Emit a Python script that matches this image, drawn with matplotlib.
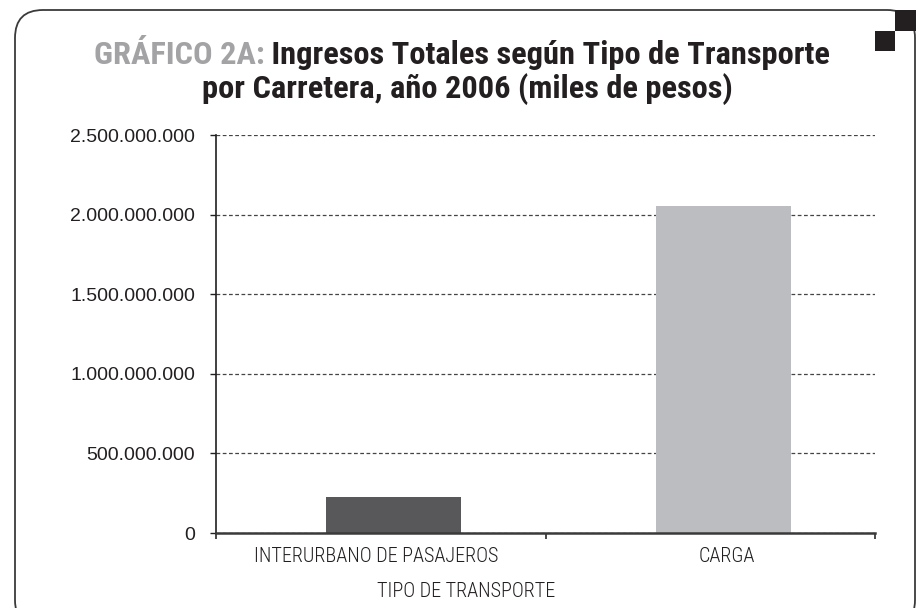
import matplotlib
matplotlib.use("Agg")
import matplotlib.pyplot as plt
import matplotlib.transforms as mtransforms
from matplotlib.patches import FancyBboxPatch, Rectangle
from matplotlib.ticker import FuncFormatter, FixedLocator
import numpy as np

categories = ["INTERURBANO DE PASAJEROS", "CARGA"]
values = [226_000_000, 2_055_000_000]
bar_colors = ["#58585a", "#bcbdc0"]
yticks = [0, 500_000_000, 1_000_000_000, 1_500_000_000, 2_000_000_000, 2_500_000_000]
title_prefix = "GRÁFICO 2A:"
title_line1 = " Ingresos Totales según Tipo de Transporte"
title_line2 = "por Carretera, año 2006 (miles de pesos)"
xlabel = "TIPO DE TRANSPORTE"

W, H = 919, 608
fig = plt.figure(figsize=(W / 100, H / 100), dpi=100)
fig.patch.set_facecolor("white")

dark = "#231f20"
cond = ["Roboto Condensed", "DejaVu Sans"]
regular = ["Liberation Sans", "DejaVu Sans"]

# frame
frame = FancyBboxPatch((15, -20), 900, H - 10 + 20, boxstyle="round,pad=0,rounding_size=28",
                       transform=None, facecolor="none", edgecolor="#3a3a3a", linewidth=1.3)
fig.patches.append(frame)
fig.patches.append(Rectangle((895, H - 31), 21, 21, transform=None, facecolor=dark, edgecolor="none"))
fig.patches.append(Rectangle((875, H - 51), 20, 20, transform=None, facecolor=dark, edgecolor="none"))

ax = fig.add_axes([216 / W, 1 - 533 / H, (875 - 216) / W, (533 - 135) / H])
ax.set_facecolor("none")

x = np.arange(len(categories))
bar_shift = 0.04
ax.bar(x + bar_shift, values, width=0.41, color=bar_colors, zorder=3)

ax.set_xlim(-0.5, len(categories) - 0.5)
ax.set_ylim(0, 2_500_000_000)
ax.set_yticks(yticks)
ax.yaxis.set_major_formatter(FuncFormatter(lambda v, p: f"{int(v):,}".replace(",", ".")))
ax.grid(axis="y", linestyle=(0, (3, 2)), color="#444444", linewidth=0.9, zorder=0)

ax.set_xticks(x + bar_shift)
ax.set_xticklabels(categories)
ax.xaxis.set_minor_locator(FixedLocator(np.arange(len(categories) + 1) - 0.5))
ax.tick_params(axis="x", which="major", length=0, pad=10, labelsize=14.5, colors=dark)
ax.tick_params(axis="x", which="minor", length=4, width=1.3, direction="out", color="#3a3a3a")
ax.tick_params(axis="y", length=4, width=1.0, pad=11, labelsize=14, colors=dark)
for lab in ax.get_xticklabels():
    lab.set_family(cond)
    lab.set_fontweight(300)
for lab in ax.get_yticklabels():
    lab.set_family(regular)
offsets = [-18, 3]
for lab, off in zip(ax.get_xticklabels(), offsets):
    lab.set_transform(lab.get_transform() + mtransforms.ScaledTranslation(off / 100, 0, fig.dpi_scale_trans))

for s in ["top", "right"]:
    ax.spines[s].set_visible(False)
ax.spines["left"].set_color(dark)
ax.spines["left"].set_linewidth(1.2)
ax.spines["bottom"].set_color("#3a3a3a")
ax.spines["bottom"].set_linewidth(1.8)
ax.spines["bottom"].set_zorder(4)

ax.set_xlabel(xlabel, fontsize=14.5, family=cond, fontweight=300, color=dark)
ax.xaxis.set_label_coords((466 - 216) / (875 - 216), -0.122)

# title
t1y = 1 - 64 / H
t2y = 1 - 98 / H
tfont = dict(fontsize=23.3, fontweight="bold", family=cond)
txt_a = fig.text(0, t1y, title_prefix, color="#a3a3a5", va="baseline", ha="left", **tfont)
txt_b = fig.text(0, t1y, title_line1, color=dark, va="baseline", ha="left", **tfont)
fig.canvas.draw()
r = fig.canvas.get_renderer()
wa = txt_a.get_window_extent(r).width
wb = txt_b.get_window_extent(r).width
start = 462 - (wa + wb) / 2
txt_a.set_x(start / W)
txt_b.set_x((start + wa) / W)
fig.text(467 / W, t2y, title_line2, color=dark, va="baseline", ha="center", **tfont)

fig.savefig("out.png", dpi=100)
